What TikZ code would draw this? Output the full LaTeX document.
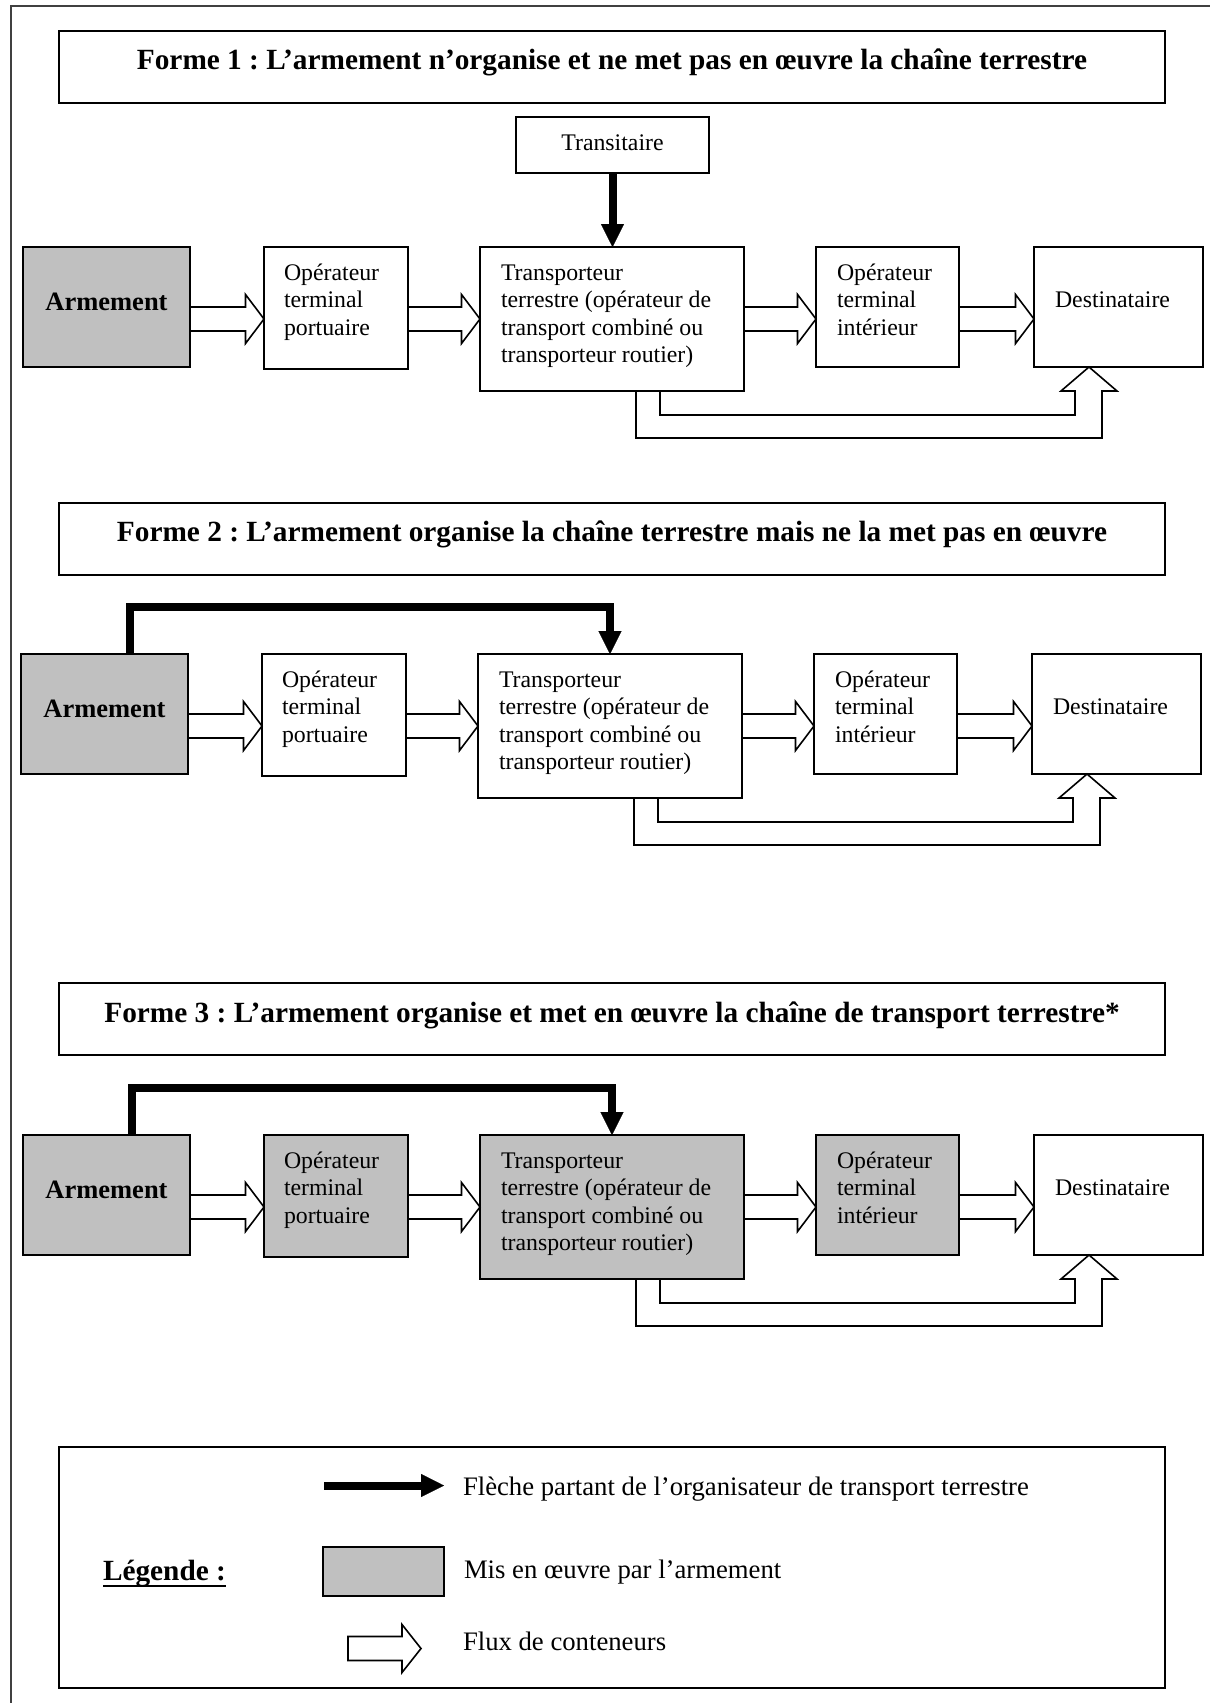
\documentclass[tikz,border=0pt]{standalone}
\usepackage{fontspec}
\setmainfont{Liberation Serif}
\usetikzlibrary{calc,arrows.meta}
\definecolor{armgray}{RGB}{192,192,192}
\frenchspacing
\tikzset{
  bx/.style={draw, line width=0.8pt, inner sep=0pt, outer sep=0pt, anchor=north west},
  txt/.style={font=\fontsize{11.9}{13.75}\selectfont, align=left, inner sep=0pt, outer sep=0pt},
  ttl/.style={font=\fontsize{14.65}{16.9}\selectfont\bfseries, inner sep=0pt, outer sep=0pt, anchor=base},
  armtxt/.style={font=\fontsize{13.25}{15.2}\selectfont\bfseries, inner sep=0pt, outer sep=0pt, anchor=base},
  lgd/.style={font=\fontsize{13.35}{15.4}\selectfont, inner sep=0pt, outer sep=0pt, anchor=base west},
  flux/.style={draw, line width=0.8pt, fill=white, line join=miter},
  fluxopen/.style={draw, line width=0.8pt, line join=miter},
  organ/.style={line width=4pt, line join=miter, -{Triangle[width=11.5pt,length=11.5pt,line width=0.1pt]}},
  frame/.style={draw=black!75, line width=1pt},
}
% horizontal container-flow arrow from node #1 to node #2 along row coordinate #3
\newcommand\fluxh[3]{%
  \draw[flux] ($(#1.east|-#3)+(0,-12)$) -- ($(#2.west|-#3)+(-18.5,-12)$)
    -- ($(#2.west|-#3)+(-18.5,-24.5)$) -- (#2.west|-#3)
    -- ($(#2.west|-#3)+(-18.5,24.5)$) -- ($(#2.west|-#3)+(-18.5,12)$)
    -- ($(#1.east|-#3)+(0,12)$) -- cycle;}
% one chain: #1 suffix, #2 #3 #4 fills of port operator, carrier, inland operator
% (the base anchor of a multi-line node is the baseline of its last line)
\newcommand\chainrow[4]{%
  \node[bx, fill=armgray, minimum width=83.5pt, minimum height=60pt] (A#1) at (23,247) {};
  \node[bx, fill=#2, minimum width=72pt, minimum height=61pt] (P#1) at (264,247) {};
  \node[bx, fill=#3, minimum width=132pt, minimum height=72pt] (T#1) at (480,247) {};
  \node[bx, fill=#4, minimum width=71.5pt, minimum height=60pt] (I#1) at (816,247) {};
  \node[bx, fill=white, minimum width=84.5pt, minimum height=60pt] (D#1) at (1034,247) {};
  \node[armtxt] (tA#1) at ($(A#1.north)+(0,63.7)$) {Armement};
  \node[txt, anchor=base west] (tP#1) at ($(P#1.north west)+(20,88)$) {Opérateur\\terminal\\portuaire};
  \node[txt, anchor=base west] (tT#1) at ($(T#1.north west)+(21,115.5)$) {Transporteur\\terrestre (opérateur de\\transport combiné ou\\transporteur routier)};
  \node[txt, anchor=base west] (tI#1) at ($(I#1.north west)+(21,88)$) {Opérateur\\terminal\\intérieur};
  \node[txt, anchor=base west] (tD#1) at ($(D#1.north west)+(21,60.5)$) {Destinataire};
  \coordinate (r#1) at (0,319);
  \fluxh{A#1}{P#1}{r#1}
  \fluxh{P#1}{T#1}{r#1}
  \fluxh{T#1}{I#1}{r#1}
  \fluxh{I#1}{D#1}{r#1}
  \draw[fluxopen] ($(T#1.south west)+(156,0)$) |- ($(D#1.south west)+(68,71)$)
    -- ($(D#1.south west)+(68,24)$) -- ($(D#1.south west)+(83,24)$)
    -- ($(D#1.south west)+(55,0)$) -- ($(D#1.south west)+(27,24)$)
    -- ($(D#1.south west)+(41,24)$) -- ($(D#1.south west)+(41,48)$)
    -| ($(T#1.south west)+(180,0)$);
}
\begin{document}
\begin{tikzpicture}[x=0.5pt,y=-0.5pt]
\useasboundingbox (0,0) rectangle (1210,1703);
\fill[white] (0,0) rectangle (1210,1703);
% outer frame (cut by the page edges)
\coordinate (fr1) at (10.5,1703);
\coordinate (fr2) at (10.5,5.5);
\coordinate (fr3) at (1210,5.5);
\draw[frame] (fr1) -- (fr2) -- (fr3);

% ---------- Forme 1 ----------
\node[bx, minimum width=553pt, minimum height=36pt] (F1) at (59,31) {};
\node[ttl] (F1t) at ($(F1.north)+(0,38.5)$) {Forme 1 : L’armement n’organise et ne met pas en œuvre la chaîne terrestre};
\node[bx, minimum width=96.5pt, minimum height=28pt] (Tr) at (516,117) {};
\node[txt, anchor=base] (tTr) at ($(Tr.north)+(0,33)$) {Transitaire};
\begin{scope}
  \chainrow{1}{white}{white}{white}
\end{scope}
\draw[organ] (Tr.south) -- (Tr.south |- T1.north);

% ---------- Forme 2 ----------
\node[bx, minimum width=553pt, minimum height=36pt] (F2) at (59,503) {};
\node[ttl] (F2t) at ($(F2.north)+(0,38.5)$) {Forme 2 : L’armement organise la chaîne terrestre mais ne la met pas en œuvre};
\begin{scope}[shift={(-2,407)}]
  \chainrow{2}{white}{white}{white}
\end{scope}
\draw[organ] ($(A2.north west)+(109,0)$) |- ($(T2.north)+(0,-47)$) -- (T2.north);

% ---------- Forme 3 ----------
\node[bx, minimum width=553pt, minimum height=36pt] (F3) at (59,983) {};
\node[ttl] (F3t) at ($(F3.north)+(0,39)$) {Forme 3 : L’armement organise et met en œuvre la chaîne de transport terrestre*};
\begin{scope}[shift={(0,888)}]
  \chainrow{3}{armgray}{armgray}{armgray}
\end{scope}
\draw[organ] ($(A3.north west)+(109,0)$) |- ($(T3.north)+(0,-47.5)$) -- (T3.north);

% ---------- Légende ----------
\node[bx, minimum width=553pt, minimum height=120.5pt] (L) at (59,1447) {};
\node[ttl, anchor=base west] (lgT) at (103,1580) {Légende :};
\draw[line width=1pt] ($(lgT.base west)+(0,6)$) -- ($(lgT.base east)+(0,6)$);
\coordinate (lgA) at (324,1485.5);
\coordinate (lgB) at (444,1485.5);
\draw[organ] (lgA) -- (lgB);
\node[lgd] (lg1) at (463,1495) {Flèche partant de l’organisateur de transport terrestre};
\node[bx, fill=armgray, minimum width=60.5pt, minimum height=24.5pt] (lgG) at (323,1547) {};
\node[lgd] (lg2) at (464,1578) {Mis en œuvre par l’armement};
\coordinate (lgC) at (348,1648.5);
\coordinate (lgD) at (421,1648.5);
\draw[flux] ($(lgC)+(0,-12)$) -- ($(lgD)+(-19,-12)$) -- ($(lgD)+(-19,-24)$) -- (lgD)
  -- ($(lgD)+(-19,24)$) -- ($(lgD)+(-19,12)$) -- ($(lgC)+(0,12)$) -- cycle;
\node[lgd] (lg3) at (463,1650.5) {Flux de conteneurs};
\end{tikzpicture}
\end{document}
